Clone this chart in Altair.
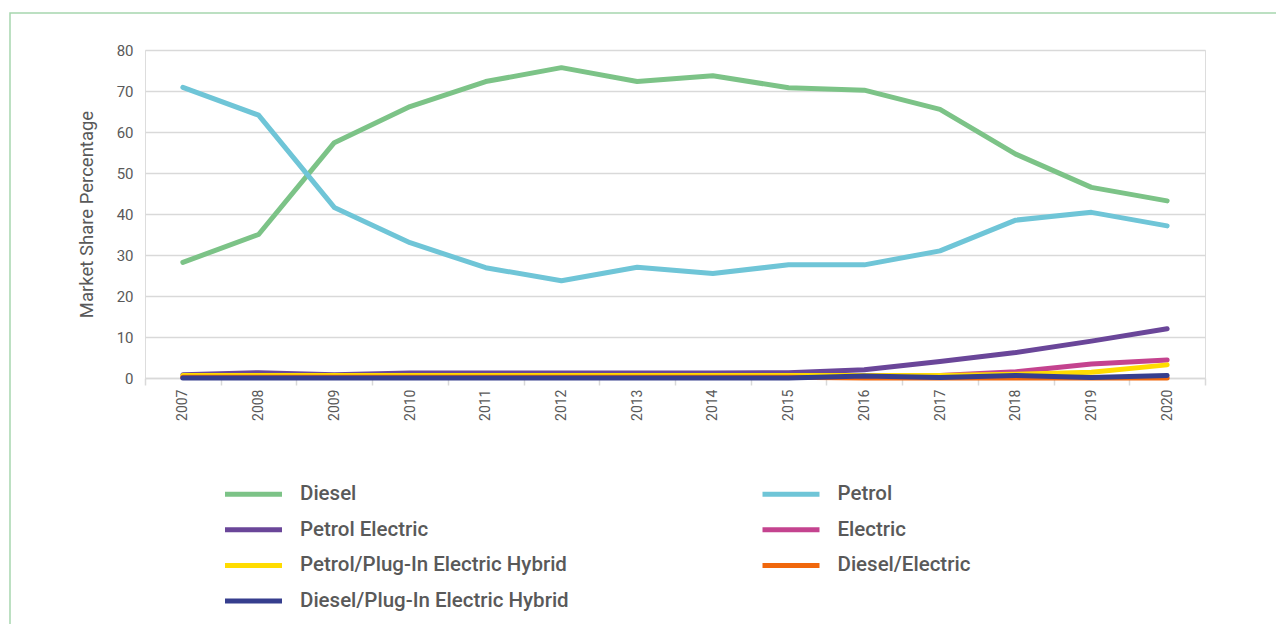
import altair as alt
import pandas as pd

years = [str(y) for y in range(2007, 2021)]

series_names = [
    "Diesel",
    "Petrol",
    "Petrol Electric",
    "Electric",
    "Petrol/Plug-In Electric Hybrid",
    "Diesel/Electric",
    "Diesel/Plug-In Electric Hybrid",
]
series_colors = ["#7cc387", "#6fc5d7", "#6a4699", "#c4438f", "#ffdc00", "#f0670c", "#363e8e"]

diesel = [28.2, 35.0, 57.4, 66.2, 72.3, 75.7, 72.3, 73.7, 70.8, 70.2, 65.5, 54.6, 46.5, 43.2]
petrol = [70.9, 64.1, 41.6, 33.0, 26.9, 23.7, 27.0, 25.5, 27.6, 27.6, 31.0, 38.5, 40.4, 37.1]
petrol_electric = [0.8, 1.3, 0.8, 1.2, 1.2, 1.2, 1.2, 1.2, 1.3, 2.0, 4.0, 6.2, 9.0, 12.0]
electric = [0.1, 0.1, 0.1, 0.1, 0.1, 0.1, 0.1, 0.2, 0.3, 0.4, 0.6, 1.5, 3.4, 4.4]
petrol_phev = [0.6, 0.6, 0.6, 0.6, 0.6, 0.6, 0.6, 0.6, 0.6, 0.6, 0.6, 0.9, 1.4, 3.2]
diesel_electric = [0.2, 0.2, 0.2, 0.2, 0.2, 0.2, 0.2, 0.2, 0.2, 0.0, 0.0, 0.0, 0.0, 0.0]
diesel_phev = [0.0, 0.0, 0.0, 0.0, 0.0, 0.0, 0.0, 0.0, 0.0, 0.5, 0.1, 0.6, 0.1, 0.6]

all_series = [diesel, petrol, petrol_electric, electric, petrol_phev, diesel_electric, diesel_phev]

rows = []
for name, vals in zip(series_names, all_series):
    for yr, v in zip(years, vals):
        rows.append({"Year": yr, "Fuel": name, "Share": v})
df = pd.DataFrame(rows)

FONT = "Roboto"
TXT = "#595959"
GRID = "#d9d9d9"

frame = alt.Chart(pd.DataFrame({"k": [0]})).mark_rect(
    filled=False, stroke="#a6d6ae", strokeWidth=1.5, clip=False
).encode(
    x=alt.value(-135), x2=alt.value(1150), y=alt.value(-37), y2=alt.value(620)
)

lines = alt.Chart(df).mark_line(strokeWidth=5, strokeCap="round", strokeJoin="round").encode(
    x=alt.X(
        "Year:O",
        bandPosition=0.5,
        scale=alt.Scale(type="band", paddingInner=0, paddingOuter=0),
        axis=alt.Axis(
            title=None,
            labelAngle=-90,
            tickBand="extent",
            labelFont=FONT,
            labelFontSize=14,
            labelColor=TXT,
            labelPadding=4,
            tickSize=7,
            tickColor=GRID,
            tickWidth=1.5,
            domainColor=GRID,
            domainWidth=1.5,
            grid=False,
        ),
    ),
    y=alt.Y(
        "Share:Q",
        scale=alt.Scale(domain=[0, 80], nice=False, zero=True),
        axis=alt.Axis(
            title="Market Share Percentage",
            titleFont=FONT,
            titleFontSize=18.5,
            titleFontWeight="normal",
            titleColor=TXT,
            titlePadding=20,
            values=[0, 10, 20, 30, 40, 50, 60, 70, 80],
            labelFont=FONT,
            labelFontSize=15,
            labelColor=TXT,
            labelPadding=12,
            ticks=False,
            domain=False,
            grid=True,
            gridColor=GRID,
            gridWidth=1.5,
        ),
    ),
    color=alt.Color(
        "Fuel:N",
        sort=series_names,
        scale=alt.Scale(domain=series_names, range=series_colors),
        legend=alt.Legend(
            title=None,
            orient="none",
            direction="horizontal",
            legendX=91.5,
            legendY=427,
            columns=2,
            symbolType="M-2,0H2",
            symbolSize=812,
            symbolStrokeWidth=5,
            labelFont=FONT,
            labelFontSize=20.5,
            labelFontWeight=500,
            labelColor=TXT,
            labelOffset=29.5,
            rowPadding=7.7,
            columnPadding=182.5,
            labelLimit=400,
        ),
    ),
)

chart = alt.layer(frame, lines).properties(
    width=1060,
    height=328,
    padding={"left": 137, "top": 42, "right": 71, "bottom": 246},
    autosize=alt.AutoSizeParams(type="none"),
).configure_view(stroke=None).configure(background="white")

chart.save("out.html", embed_options={"renderer": "svg", "actions": False})
